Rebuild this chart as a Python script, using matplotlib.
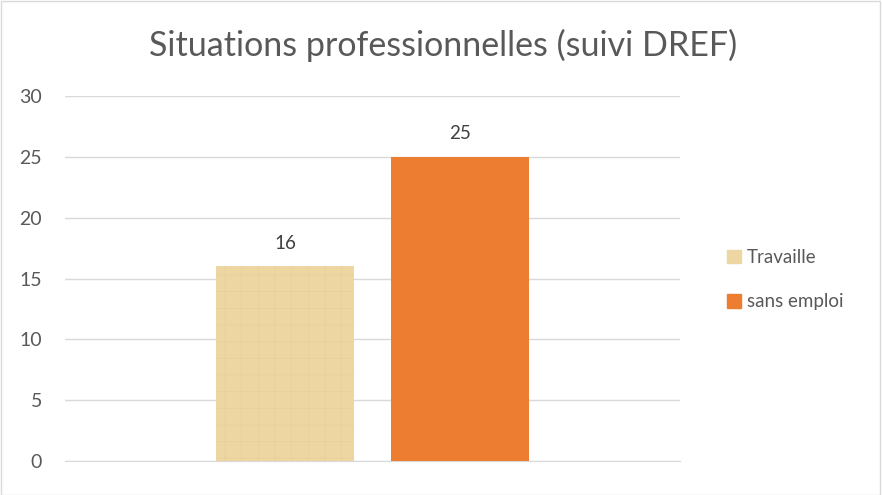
import numpy as np
import matplotlib.pyplot as plt
import matplotlib.patches as mpatches

# data
series = ["Travaille", "sans emploi"]
values = [16, 25]
colors = ["#EED6A2", "#ED7D31"]

plt.rcParams['font.family'] = ['Lato', 'DejaVu Sans']
plt.rcParams['hatch.linewidth'] = 0.3
txt = "#595959"

fig = plt.figure(figsize=(8.82, 4.95), dpi=100)
ax = fig.add_axes([0.0737, 0.0687, 0.6973, 0.7373])

width = 0.2244
offsets = [-0.1419, 0.1419]
for i, (name, v) in enumerate(zip(series, values)):
    if i == 0:
        # papyrus-ish texture
        ax.bar(0.5 + offsets[i], v, width, color=colors[i], label=name,
               hatch="+", edgecolor="#E4CB94", linewidth=0, zorder=3)
    else:
        ax.bar(0.5 + offsets[i], v, width, color=colors[i], label=name, zorder=3)
    ax.text(0.5 + offsets[i], v + 1.2, str(v), ha="center", va="bottom",
            fontsize=13.5, color="#404040")

ax.set_xlim(0, 1)
ax.set_ylim(0, 30)
ax.set_yticks(range(0, 31, 5))
ax.set_xticks([])
ax.yaxis.grid(True, color="#D9D9D9", linewidth=1)
ax.set_axisbelow(True)
for s in ["top", "right", "left"]:
    ax.spines[s].set_visible(False)
ax.spines["bottom"].set_color("#D9D9D9")
ax.tick_params(axis="y", length=0, pad=16.5, labelsize=14, labelcolor=txt)

fig.text(0.5 * (148 + 738) / 882, 0.909, "Situations professionnelles (suivi DREF)",
         ha="center", va="center", fontsize=24.5, color=txt)

handles = [mpatches.Patch(color=c, label=n) for n, c in zip(series, colors)]
fig.legend(handles=handles, loc="center left", bbox_to_anchor=(0.805, 0.435),
           frameon=False, fontsize=13.5, labelcolor=txt, handlelength=0.75,
           handleheight=0.75, handletextpad=0.3, labelspacing=1.45)

fig.patches.append(mpatches.Rectangle((0.001, 0.001), 0.997, 0.997, transform=fig.transFigure,
                                      fill=False, edgecolor="#D9D9D9", linewidth=1))

fig.savefig("out.png", dpi=100)
